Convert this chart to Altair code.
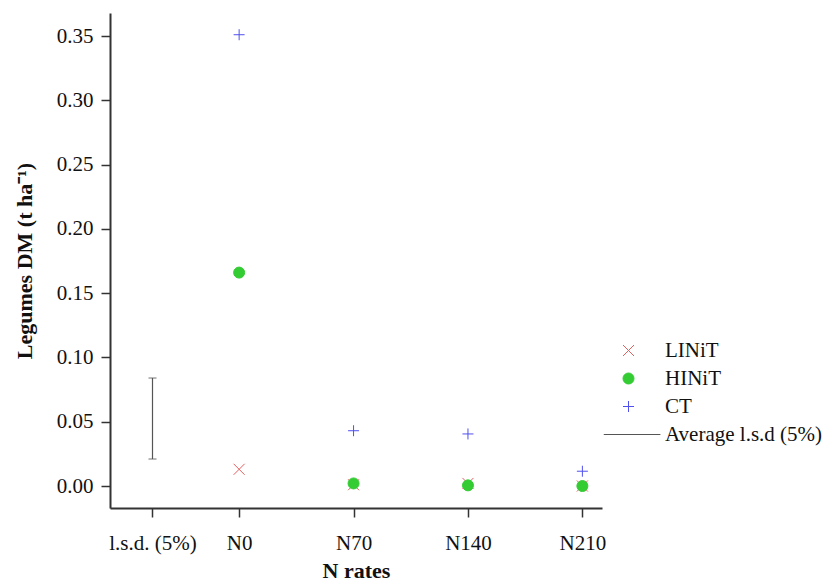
import altair as alt
import pandas as pd

# Data
series_names = ["LINiT", "HINiT", "CT"]
lsd_name = "Average l.s.d (5%)"
rate_labels = ["N0", "N70", "N140", "N210"]
rate_pos = [0, 70, 140, 210]
lsd_label = "l.s.d. (5%)"
lsd_pos = -53
linit = [0.013, 0.001, 0.002, 0.000]
hinit = [0.166, 0.002, 0.0005, 0.000]
ct = [0.351, 0.043, 0.0405, 0.0115]
lsd_lo = 0.021
lsd_hi = 0.084

rows = []
for name, vals in zip(series_names, [linit, hinit, ct]):
    for p, v in zip(rate_pos, vals):
        rows.append({"pos": p, "value": v, "series": name})
df = pd.DataFrame(rows)
lsd_df = pd.DataFrame([{"pos": lsd_pos, "lo": lsd_lo, "hi": lsd_hi, "series": lsd_name}])

font = "Liberation Serif"
domain_all = series_names + [lsd_name]

label_map = {str(p): l for p, l in zip(rate_pos, rate_labels)}
label_map[str(lsd_pos)] = lsd_label
expr = " : ".join([f"datum.value == {k} ? '{v}'" for k, v in label_map.items()]) + " : ''"

xscale = alt.Scale(domain=[-79, 222], nice=False, zero=False)
yscale = alt.Scale(domain=[-0.0171, 0.3679], nice=False, zero=False)

axis_common = dict(grid=False, domainColor="#333333", domainWidth=2, tickColor="#333333",
                   tickWidth=1.5, tickSize=9, labelFont=font, labelFontSize=21,
                   labelColor="#111", titleFont=font, titleFontSize=22, titleFontWeight="bold",
                   titleColor="#111")

xenc = alt.X("pos:Q", scale=xscale,
             axis=alt.Axis(title="N rates", values=[lsd_pos] + rate_pos, labelExpr=expr,
                           labelPadding=15, titlePadding=7, **axis_common))
yenc = alt.Y("value:Q", scale=yscale,
             axis=alt.Axis(title="Legumes DM (t ha⁻¹)", values=[0, 0.05, 0.1, 0.15, 0.2, 0.25, 0.3, 0.35],
                           format=".2f", labelPadding=8, titlePadding=20, **axis_common))

lsd_color = "#555555"
rule = alt.Chart(lsd_df).mark_rule(color=lsd_color, strokeWidth=1.2).encode(
    x=xenc, y=alt.Y("lo:Q", scale=yscale), y2="hi:Q")
cap_lo = alt.Chart(lsd_df).mark_tick(color=lsd_color, orient="horizontal", size=8, thickness=1.2).encode(
    x=alt.X("pos:Q", scale=xscale), y=alt.Y("lo:Q", scale=yscale))
cap_hi = alt.Chart(lsd_df).mark_tick(color=lsd_color, orient="horizontal", size=8, thickness=1.2).encode(
    x=alt.X("pos:Q", scale=xscale), y=alt.Y("hi:Q", scale=yscale))

shape_range = ["M-1,-1L1,1M-1,1L1,-1", "circle", "M-1,0L1,0M0,-1L0,1", "M-4.5,0L5.8,0"]
color_range = ["#e06060", "#33cc33", "#5050ee", lsd_color]

legend = alt.Legend(title=None, orient="none", legendX=508, legendY=327, padding=0,
                    labelFont=font, labelFontSize=21, labelColor="#111", labelOffset=26,
                    symbolSize=121, symbolStrokeWidth=1, rowPadding=6, symbolOpacity=1)

points = alt.Chart(df).mark_point(size=121, strokeWidth=1, opacity=1, filled=True).encode(
    x=xenc, y=yenc,
    shape=alt.Shape("series:N", scale=alt.Scale(domain=domain_all, range=shape_range), legend=legend),
    color=alt.Color("series:N", scale=alt.Scale(domain=domain_all, range=color_range), legend=legend),
    stroke=alt.Stroke("series:N", scale=alt.Scale(domain=domain_all, range=color_range), legend=legend),
    order=alt.Order("order:Q"),
).transform_calculate(order="indexof(['LINiT','HINiT','CT'], datum.series)")

chart = alt.layer(rule, cap_lo, cap_hi, points).properties(
    width=492, height=495,
    padding={"left": 5, "top": 5, "right": 0, "bottom": 0},
).configure_view(stroke=None)

chart.save("out.html", embed_options={"renderer": "svg", "actions": False})
